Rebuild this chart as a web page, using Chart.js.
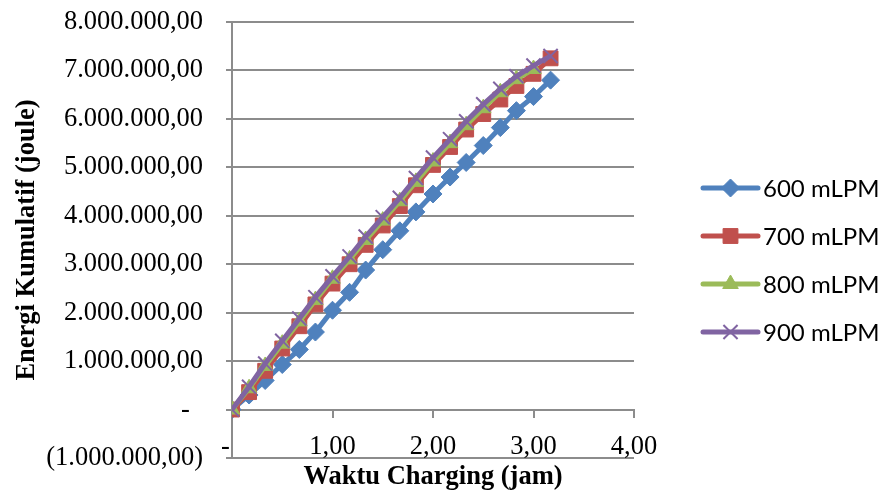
<!DOCTYPE html>
<html>
<head>
<meta charset="utf-8">
<script src="https://cdn.jsdelivr.net/npm/chart.js@4.4.1/dist/chart.umd.min.js"></script>
<style>
  html, body { margin: 0; padding: 0; background: #fff; }
  #wrap { width: 880px; height: 493px; }
</style>
</head>
<body>
<div id="wrap"><canvas id="grafik-energi"></canvas></div>
<script>
  // waktu charging (jam), tiap 10 menit
  const waktu = [0, 0.17, 0.33, 0.5, 0.67, 0.83, 1, 1.17, 1.33, 1.5, 1.67, 1.83, 2, 2.17, 2.33, 2.5, 2.67, 2.83, 3, 3.17];

  const namaSeri = ["600 mLPM", "700 mLPM", "800 mLPM", "900 mLPM"];

  // energi kumulatif (joule)
  const energi600 = [0, 300000, 600000, 930000, 1240000, 1600000, 2050000, 2420000, 2880000, 3300000, 3690000, 4080000, 4450000, 4800000, 5100000, 5450000, 5820000, 6170000, 6460000, 6800000];
  const energi700 = [0, 360000, 800000, 1260000, 1720000, 2170000, 2600000, 3000000, 3400000, 3800000, 4200000, 4630000, 5050000, 5420000, 5780000, 6100000, 6400000, 6680000, 6930000, 7250000];
  const energi800 = [0, 440000, 900000, 1360000, 1820000, 2260000, 2700000, 3100000, 3500000, 3900000, 4300000, 4700000, 5120000, 5500000, 5870000, 6220000, 6550000, 6820000, 7030000];
  const energi900 = [0, 470000, 950000, 1420000, 1880000, 2320000, 2750000, 3160000, 3570000, 3970000, 4370000, 4780000, 5200000, 5580000, 5950000, 6300000, 6620000, 6880000, 7100000, 7300000];

  const tickWaktu = [0, 1, 2, 3, 4];
  const tickEnergi = [-1000000, 0, 1000000, 2000000, 3000000, 4000000, 5000000, 6000000, 7000000, 8000000];

  const warna = ["#4F81BD", "#C0504D", "#9BBB59", "#8064A2"];
  const bentuk = ["rectRot", "rect", "triangle", "crossRot"];
  const ukuran = [9, 10.5, 9, 10];

  const FONT_SERIF = "'Liberation Serif', 'Times New Roman', serif";
  const ABU = "#8C8C8C";

  // format angka gaya akuntansi: 1.000.000,00 / (1.000.000,00) / -
  function formatAngka(v) {
    const [bulat, pecahan] = Math.abs(v).toFixed(2).split(".");
    const teks = bulat.replace(/\B(?=(\d{3})+(?!\d))/g, ".") + "," + pecahan;
    return v < 0 ? "(" + teks + ")" : teks;
  }

  function titik(xs, ys) {
    return ys.map((y, i) => ({ x: xs[i], y: y }));
  }

  const semuaEnergi = [energi600, energi700, energi800, energi900];

  const datasets = semuaEnergi.map((arr, i) => ({
    label: namaSeri[i],
    data: titik(waktu, arr),
    borderColor: warna[i],
    backgroundColor: warna[i],
    borderWidth: 5,
    pointStyle: bentuk[i],
    pointRadius: ukuran[i],
    pointBorderWidth: bentuk[i] === "crossRot" ? 2 : 1,
    pointBorderColor: warna[i],
    pointBackgroundColor: warna[i],
    tension: 0,
    order: 4 - i
  }));

  // legenda di kanan: garis + penanda
  const legendaKanan = {
    id: "legendaKanan",
    afterDraw(chart, args, opts) {
      const ctx = chart.ctx;
      chart.data.datasets.forEach((ds, i) => {
        const y = opts.y + i * opts.jarak;
        ctx.save();
        ctx.strokeStyle = ds.borderColor;
        ctx.lineWidth = 5;
        ctx.lineCap = "round";
        ctx.beginPath();
        ctx.moveTo(opts.x, y);
        ctx.lineTo(opts.x + opts.panjang, y);
        ctx.stroke();
        ctx.fillStyle = ds.backgroundColor;
        ctx.strokeStyle = ds.borderColor;
        ctx.lineWidth = ds.pointBorderWidth;
        ctx.lineCap = "butt";
        Chart.helpers.drawPoint(ctx, {
          pointStyle: ds.pointStyle,
          radius: ds.pointRadius,
          rotation: 0,
          borderWidth: ds.pointBorderWidth
        }, opts.x + opts.panjang / 2, y);
        ctx.fillStyle = "#000";
        ctx.font = opts.font;
        ctx.textAlign = "left";
        ctx.textBaseline = "middle";
        ctx.fillText(ds.label, opts.x + opts.panjang + 5, y + 1);
        ctx.restore();
      });
    }
  };

  new Chart(document.getElementById("grafik-energi"), {
    type: "line",
    data: { datasets },
    plugins: [legendaKanan],
    options: {
      responsive: true,
      maintainAspectRatio: false,
      animation: false,
      devicePixelRatio: 1,
      layout: { padding: { top: 22, right: 246, bottom: 0, left: 0 } },
      plugins: {
        legend: { display: false },
        tooltip: { enabled: false },
        legendaKanan: { x: 703, y: 188, jarak: 48, panjang: 55, font: "24px Lato, 'Open Sans', sans-serif" }
      },
      scales: {
        x: {
          type: "linear",
          position: { y: 0 },
          min: 0,
          max: 4,
          afterBuildTicks: s => { s.ticks = tickWaktu.map(v => ({ value: v })); },
          ticks: {
            autoSkip: false,
            maxRotation: 0,
            padding: 15,
            color: "#000",
            font: { family: FONT_SERIF, size: 26.5 },
            callback: v => v === 0 ? "-  " : v.toFixed(2).replace(".", ",")
          },
          grid: { drawOnChartArea: false, color: ABU, lineWidth: 2, tickLength: 7 },
          border: { display: true, color: ABU, width: 2 }
        },
        xJudul: {
          type: "linear",
          axis: "x",
          position: "bottom",
          min: 0,
          max: 4,
          ticks: { display: false },
          grid: { display: false, drawTicks: false },
          border: { display: false },
          title: {
            display: true,
            text: "Waktu Charging (jam)",
            color: "#000",
            font: { family: FONT_SERIF, size: 26.5, weight: "bold" },
            padding: { top: 0, bottom: 0 }
          },
          afterFit: s => { s.height = 35; }
        },
        y: {
          type: "linear",
          min: -1000000,
          max: 8000000,
          afterBuildTicks: s => { s.ticks = tickEnergi.map(v => ({ value: v })); },
          ticks: {
            autoSkip: false,
            padding: 23,
            color: "#000",
            font: { family: FONT_SERIF, size: 26.5 },
            callback: v => v === 0 ? "-  " : formatAngka(v)
          },
          grid: { color: ABU, lineWidth: 2, tickLength: 6 },
          border: { display: true, color: ABU, width: 2 },
          title: {
            display: true,
            text: "Energi Kumulatif (joule)",
            color: "#000",
            font: { family: FONT_SERIF, size: 26.5, weight: "bold" },
            padding: { top: 11, bottom: 0 }
          },
          afterFit: s => {
            s.width = 232;
            // label atas/bawah boleh melewati area plot
            s.paddingTop = 0;
            s.paddingBottom = 0;
          }
        }
      }
    }
  });
</script>
</body>
</html>
